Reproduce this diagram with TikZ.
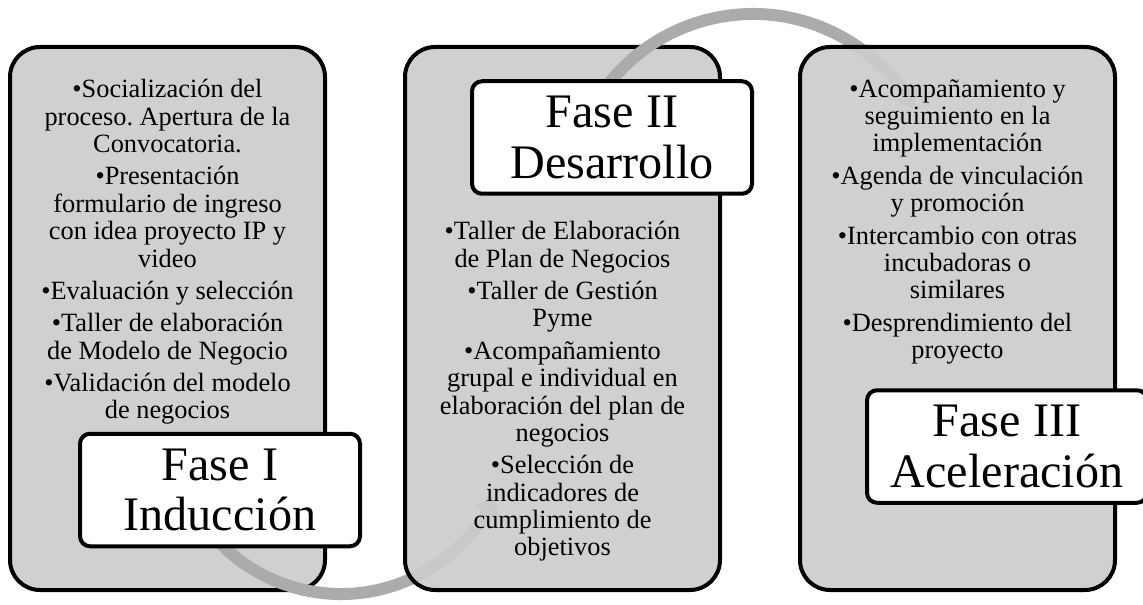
\documentclass[tikz,border=0pt]{standalone}
\usepackage{fontspec}
\setmainfont{Liberation Serif}
\usetikzlibrary{arrows.meta}
\frenchspacing

\tikzset{
  bloque/.style = {draw, line width=0.08cm, rounded corners=0.6cm, fill=black!20, fill opacity=0.92, minimum width=6.3cm, minimum height=10.86cm},
  lista/.style = {anchor=north, align=center, inner sep=0pt, font=\fontsize{15}{15.6}\selectfont},
  titulo/.style = {draw, line width=0.08cm, rounded corners=0.2cm, fill=white, align=center, minimum width=5.6cm, minimum height=2.25cm, font=\fontsize{27.4}{28.6}\selectfont},
  flecha/.style = {line width=0.24cm, draw=black!33, -{Triangle[width=0.48cm, length=0.32cm]}}
}

\begin{document}
\begin{tikzpicture}
\useasboundingbox (0, 0) rectangle (22.86, -12.1);

\begin{scope}[xshift = 0cm]
\draw (3.35, -6.37) node[bloque] (b1) {};
\draw (3.35, -1.58) node[lista] (t1) {\textbullet Socialización del\\ proceso. Apertura de la\\ Convocatoria.\\[2.8pt]
\textbullet Presentación\\ formulario de ingreso\\ con idea proyecto IP y\\ video\\[2.8pt]
\textbullet Evaluación y selección\\[2.8pt]
\textbullet Taller de elaboración\\ de Modelo de Negocio\\[2.8pt]
\textbullet Validación del modelo\\ de negocios};
\coordinate (a1) at ([shift={(215:3.38)}] 6.82, -8.5);
\draw[flecha] (a1) arc[start angle=215, end angle=335, radius=3.38];
\draw (4.4, -9.8) node[titulo] (f1) {Fase I\\ Inducción};
\end{scope}

\begin{scope}[xshift = 7.9cm]
\draw (3.35, -6.37) node[bloque] (b2) {};
\draw (3.35, -4.42) node[lista] (t2) {\textbullet Taller de Elaboración\\ de Plan de Negocios\\[2.8pt]
\textbullet Taller de Gestión\\ Pyme\\[2.8pt]
\textbullet Acompañamiento\\ grupal e individual en\\ elaboración del plan de\\ negocios\\[2.8pt]
\textbullet Selección de\\ indicadores de\\ cumplimiento de\\ objetivos};
\coordinate (a2) at ([shift={(150:3.68)}] 7.16, -3.96);
\draw[flecha] (a2) arc[start angle=150, end angle=29, radius=3.68];
\draw (4.34, -2.75) node[titulo] (f2) {Fase II\\ Desarrollo};
\end{scope}

\begin{scope}[xshift = 15.8cm]
\draw (3.35, -6.37) node[bloque] (b3) {};
\draw (3.35, -1.58) node[lista] (t3) {\textbullet Acompañamiento y\\ seguimiento en la\\ implementación\\[2.8pt]
\textbullet Agenda de vinculación\\ y promoción\\[2.8pt]
\textbullet Intercambio con otras\\ incubadoras o\\ similares\\[2.8pt]
\textbullet Desprendimiento del\\ proyecto};
\draw (4.34, -8.93) node[titulo] (f3) {Fase III\\ Aceleración};
\end{scope}

\end{tikzpicture}
\end{document}
